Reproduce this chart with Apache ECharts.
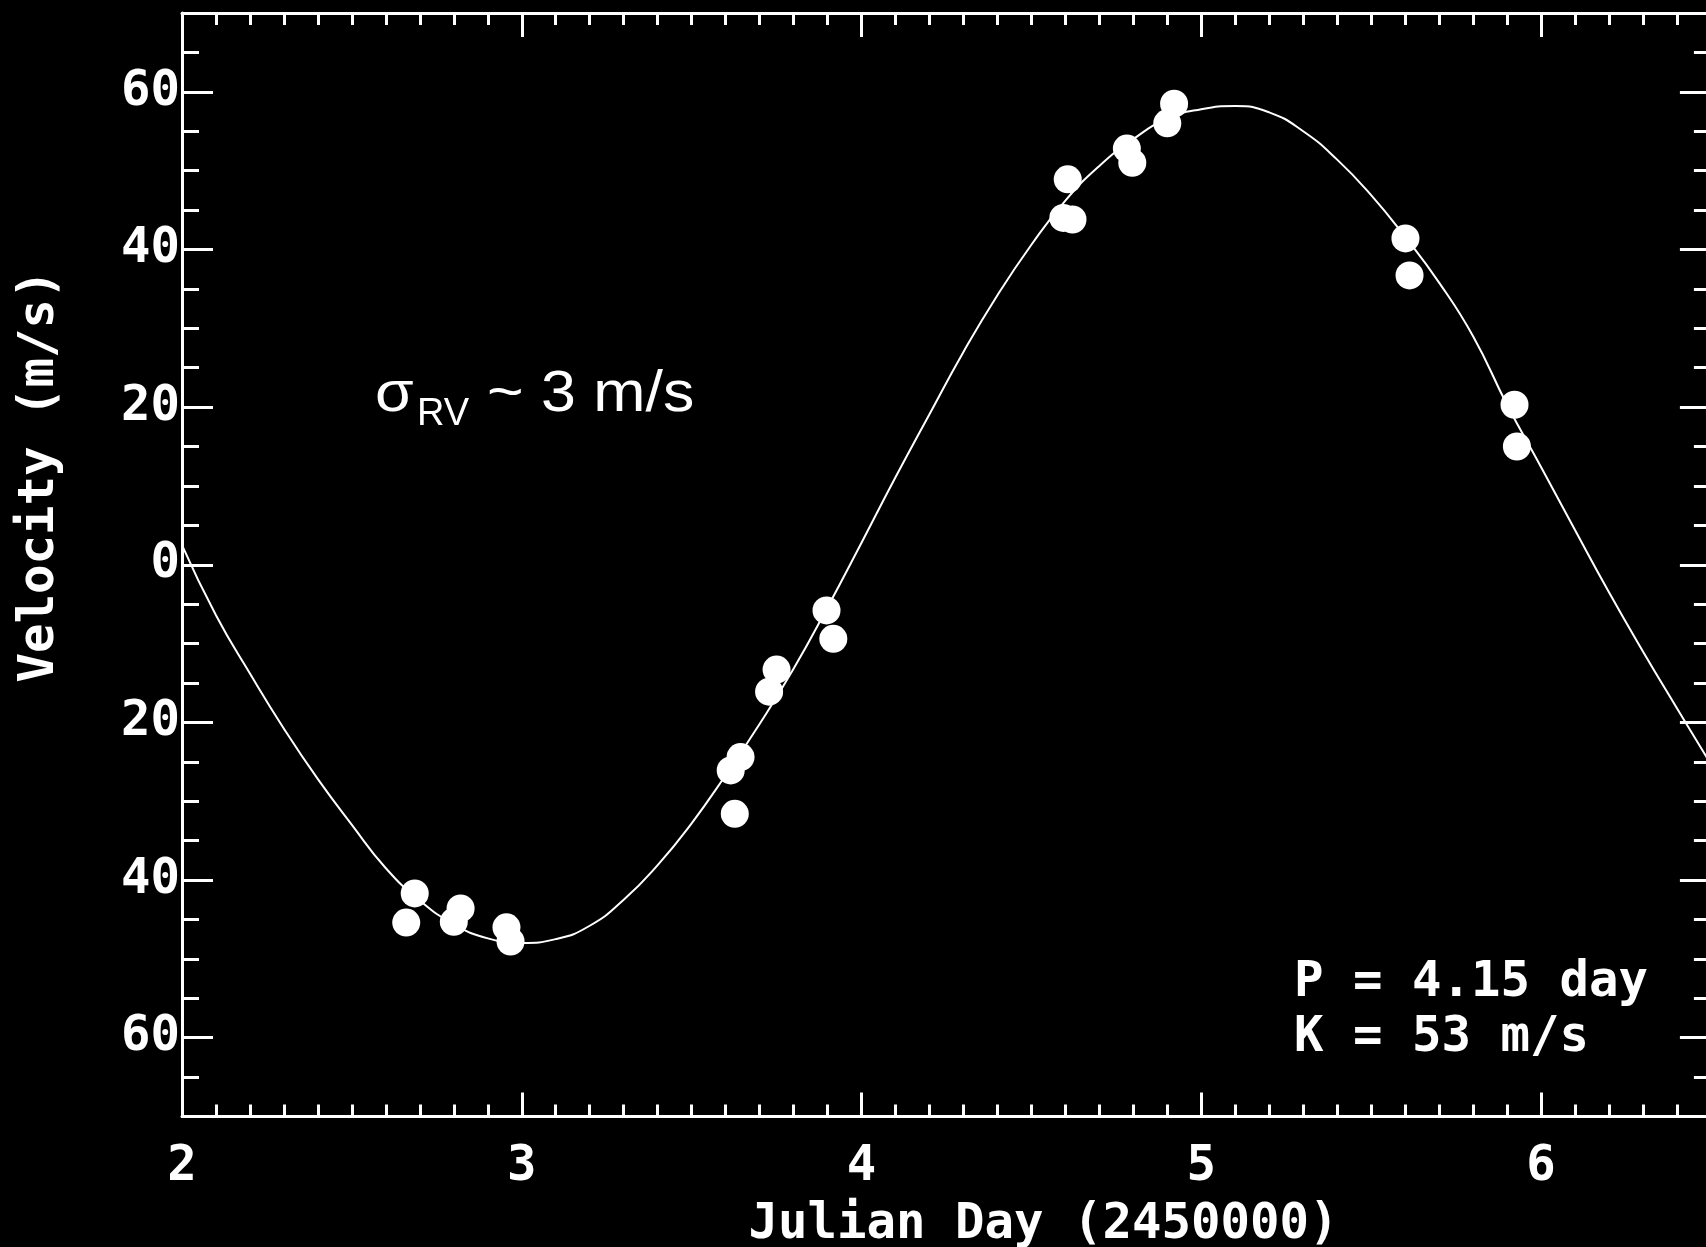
<!DOCTYPE html>
<html>
<head>
<meta charset="utf-8">
<script src="https://cdn.jsdelivr.net/npm/echarts@6/dist/echarts.min.js"></script>
<style>
html,body{margin:0;padding:0;background:#000;}
#chart{width:1706px;height:1247px;}
</style>
</head>
<body>
<div id="chart"></div>
<script>
// ---- data ----
const obsDay = [2.660, 2.685, 2.800, 2.820, 2.955, 2.967, 3.615, 3.644, 3.627, 3.728, 3.750, 3.897, 3.917,
                4.594, 4.607, 4.621, 4.781, 4.797, 4.900, 4.920, 5.601, 5.613, 5.922, 5.929];
const obsVel = [-45.4, -41.7, -45.3, -43.6, -46.0, -47.8, -26.1, -24.4, -31.6, -16.1, -13.3, -5.8, -9.4,
                44.0, 48.9, 43.8, 52.8, 51.0, 56.0, 58.5, 41.4, 36.7, 20.3, 15.0];

// fitted curve, every 0.1 day
const fitDay = [2.0, 2.1, 2.2, 2.3, 2.4, 2.5, 2.6, 2.7, 2.8, 2.9, 3.0, 3.1, 3.2, 3.3, 3.4, 3.5,
                3.6, 3.7, 3.8, 3.9, 4.0, 4.1, 4.2, 4.3, 4.4, 4.5, 4.6, 4.7, 4.8, 4.9, 5.0, 5.1,
                5.2, 5.3, 5.4, 5.5, 5.6, 5.7, 5.8, 5.9, 6.0, 6.1, 6.2, 6.3, 6.4, 6.5];
const fitVel = [2.5, -6.4, -13.8, -20.8, -27.2, -33.0, -38.5, -42.6, -45.6, -47.4, -48.0, -47.5, -45.8, -42.5, -38.1, -32.8,
                -26.7, -20.2, -13.2, -5.4, 2.8, 11.1, 19.1, 27.0, 34.2, 40.6, 46.2, 50.6, 54.0, 56.6, 57.8, 58.2,
                57.4, 55.0, 51.4, 46.9, 41.6, 35.8, 29.0, 20.3, 12.4, 4.4, -3.5, -11.0, -18.2, -25.3];

const xTickValues = [2, 3, 4, 5, 6];
const xTickLabels = ['2', '3', '4', '5', '6'];
const yTickValues = [-60, -40, -20, 0, 20, 40, 60];
const yTickLabels = ['60', '40', '20', '0', '20', '40', '60'];

const xTitle = 'Julian Day (2450000)';
const yTitle = 'Velocity (m/s)';
const noteP = 'P = 4.15 day';
const noteK = 'K = 53 m/s';

// ---- layout ----
const L = 182, T = 13, W = 1528.9, H = 1103.5;
const yMin = -70, yMax = 70;
const k = H / (yMax - yMin);
const MONO = '"DejaVu Sans Mono", "Liberation Mono", monospace';
const SANS = '"Liberation Sans", Arial, sans-serif';
const WHITE = '#ffffff';

const chart = echarts.init(document.getElementById('chart'), null, {renderer: 'canvas'});

function xFmt(v) {
  const i = xTickValues.findIndex(t => Math.abs(t - v) < 1e-6);
  return i >= 0 ? xTickLabels[i] : '';
}
function yFmt(v) {
  const i = yTickValues.findIndex(t => Math.abs(t - v) < 1e-6);
  return i >= 0 ? yTickLabels[i] : '';
}

const labelStyle = {color: WHITE, fontFamily: MONO, fontWeight: 'bold', fontSize: 49};

function xAx(pos, interval, tickLen, showLine, showLabel) {
  return {
    type: 'value', gridIndex: 0, position: pos, min: 2, max: 6.5, interval: interval,
    axisLine: {show: showLine, onZero: false, lineStyle: {color: WHITE, width: 3}},
    axisTick: {show: true, inside: true, length: tickLen, lineStyle: {color: WHITE, width: 3}},
    axisLabel: Object.assign({show: showLabel, margin: 26, formatter: xFmt, showMaxLabel: false, hideOverlap: false}, labelStyle),
    splitLine: {show: false}
  };
}
function yAx(grid, pos, min, max, interval, tickLen, showLine, showLabel) {
  return {
    type: 'value', gridIndex: grid, position: pos, min: min, max: max, interval: interval,
    axisLine: {show: showLine, onZero: false, lineStyle: {color: WHITE, width: 3}},
    axisTick: {show: true, inside: true, length: tickLen, lineStyle: {color: WHITE, width: 3}},
    axisLabel: Object.assign({show: showLabel, margin: 2, formatter: yFmt, showMinLabel: true, showMaxLabel: true}, labelStyle),
    splitLine: {show: false}
  };
}

const option = {
  backgroundColor: '#000000',
  animation: false,
  grid: [
    {left: L, top: T, width: W, height: H, containLabel: false, outerBoundsMode: 'none'},
    {left: L, top: T + 10 * k, width: W, height: 120 * k, containLabel: false, outerBoundsMode: 'none'}
  ],
  xAxis: [
    xAx('bottom', 0.1, 12, true, false),
    xAx('top', 0.1, 12, true, false),
    xAx('bottom', 1, 24, false, true),
    xAx('top', 1, 24, false, false),
    {type: 'value', gridIndex: 1, min: 0, max: 1, show: false}
  ],
  yAxis: [
    yAx(0, 'left', yMin, yMax, 5, 17, true, false),
    yAx(0, 'right', yMin, yMax, 5, 17, true, false),
    yAx(1, 'left', -60, 60, 20, 31, false, true),
    yAx(1, 'right', -60, 60, 20, 31, false, false)
  ],
  series: [
    {
      type: 'line', xAxisIndex: 0, yAxisIndex: 0,
      data: fitDay.map((d, i) => [d, fitVel[i]]),
      showSymbol: false, smooth: 0.5, clip: true,
      lineStyle: {color: WHITE, width: 2}
    },
    {
      type: 'scatter', xAxisIndex: 0, yAxisIndex: 0,
      data: obsDay.map((d, i) => [d, obsVel[i]]),
      symbol: 'circle', symbolSize: 28,
      itemStyle: {color: WHITE, opacity: 1, borderWidth: 0}
    }
  ],
  graphic: [
    {type: 'text', x: 40, y: 476, rotation: Math.PI / 2,
     style: {text: yTitle, fill: WHITE, font: 'bold 49px ' + MONO, align: 'center', verticalAlign: 'middle'}},
    {type: 'text', x: 1043.5, y: 1225,
     style: {text: xTitle, fill: WHITE, font: 'bold 49px ' + MONO, align: 'center', verticalAlign: 'middle'}},
    {type: 'text', x: 1294, y: 983,
     style: {text: noteP, fill: WHITE, font: 'bold 49px ' + MONO, align: 'left', verticalAlign: 'middle'}},
    {type: 'text', x: 1294, y: 1038,
     style: {text: noteK, fill: WHITE, font: 'bold 49px ' + MONO, align: 'left', verticalAlign: 'middle'}},
    {type: 'text', x: 375, y: 395, scaleX: 1.1,
     style: {text: 'σ', fill: WHITE, font: '57px ' + SANS, align: 'left', verticalAlign: 'middle'}},
    {type: 'text', x: 417, y: 415,
     style: {text: 'RV', fill: WHITE, font: '38px ' + SANS, align: 'left', verticalAlign: 'middle'}},
    {type: 'text', x: 487, y: 395, scaleX: 1.1,
     style: {text: '~ 3 m/s', fill: WHITE, font: '57px ' + SANS, align: 'left', verticalAlign: 'middle'}}
  ]
};
chart.setOption(option);
</script>
</body>
</html>
